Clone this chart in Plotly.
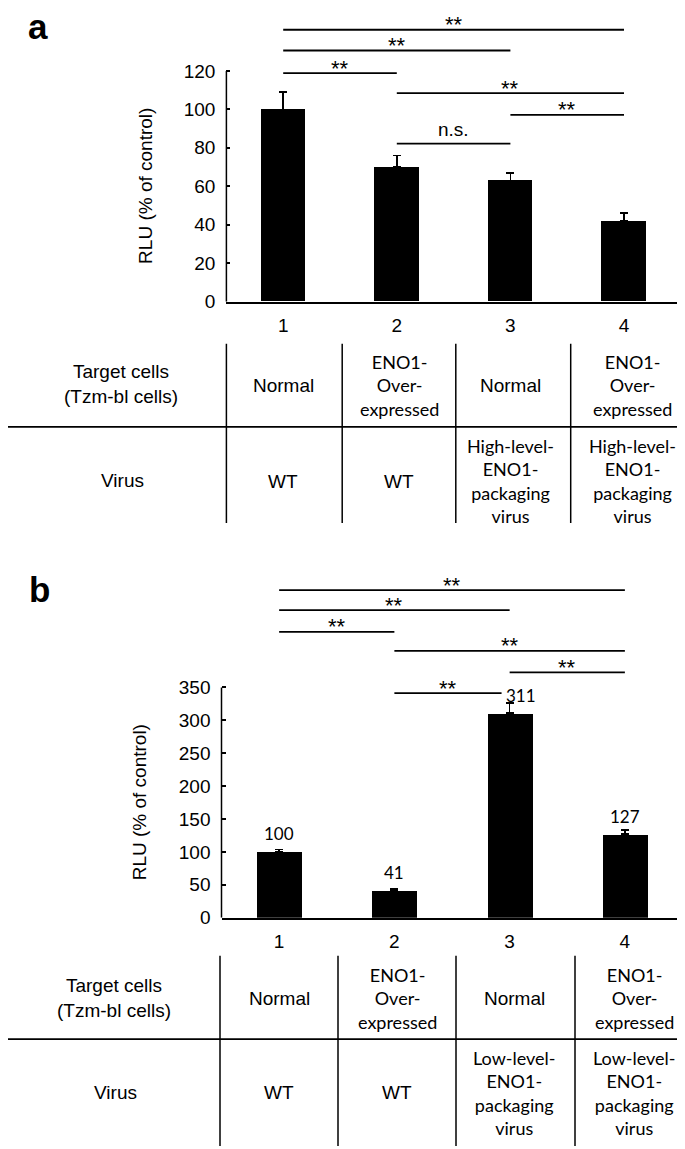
import plotly.graph_objects as go

W, H = 685, 1149

# ---------------- data ----------------
groups = ["1", "2", "3", "4"]
rlu_a = [100, 70, 63, 42]
err_a = [9, 6, 4, 4]
rlu_b = [100, 41, 311, 127]
err_b = [4, 3, 15, 6]
labels_b = ["100", "41", "311", "127"]

# significance comparisons: (from group, to group, label, bracket height in data units)
sig_a = [(0, 3, "**", 141.4), (0, 2, "**", 130.6), (0, 1, "**", 118.8),
         (1, 3, "**", 108.4), (2, 3, "**", 97.1), (1, 2, "n.s.", 82.2)]
sig_b = [(0, 3, "**", 498), (0, 2, "**", 467.5), (0, 1, "**", 434.4),
         (1, 3, "**", 405.6), (2, 3, "**", 373), (1, 1.93, "**", 341.4)]

target_cells = ["Normal", "ENO1-<br>Over-<br>expressed", "Normal", "ENO1-<br>Over-<br>expressed"]
virus_a = ["WT", "WT", "High-level-<br>ENO1-<br>packaging<br>virus", "High-level-<br>ENO1-<br>packaging<br>virus"]
virus_b = ["WT", "WT", "Low-level-<br>ENO1-<br>packaging<br>virus", "Low-level-<br>ENO1-<br>packaging<br>virus"]

ARIAL = "Liberation Sans, Arial, sans-serif"
CALIBRI = "Lato, Carlito, Calibri, sans-serif"


def fx(px):
    return px / W


def fy(py):
    return 1 - py / H


xs = list(range(len(groups)))

fig = go.Figure()
fig.add_trace(go.Bar(x=xs, y=rlu_a, width=0.39, marker=dict(color="black", line_width=0),
                     error_y=dict(type="data", array=err_a, arrayminus=[0] * 4, symmetric=False,
                                  color="black", thickness=1.5, width=4),
                     xaxis="x", yaxis="y", showlegend=False))
fig.add_trace(go.Bar(x=xs, y=rlu_b, width=0.39, marker=dict(color="black", line_width=0),
                     error_y=dict(type="data", array=err_b, arrayminus=[0] * 4, symmetric=False,
                                  color="black", thickness=1.5, width=4),
                     xaxis="x2", yaxis="y2", showlegend=False))

# axis geometry (pixels)
A_X0, A_X1, A_Y0, A_SCALE, A_TOP = 218.4, 672.8, 296.5, 1.9417, 150
B_X0, B_X1, B_Y0, B_SCALE, B_TOP = 213.5, 674.5, 918.5, 0.6643, 520

xcommon = dict(range=[-0.5, 3.5], tickvals=xs, ticktext=groups, showline=True, linecolor="black",
               linewidth=1.5, ticks="", showgrid=False, zeroline=False, ticklabelstandoff=6,
               tickfont=dict(family=ARIAL, size=19, color="black"), fixedrange=True)
ycommon = dict(showline=False, ticks="inside", ticklen=4, tickwidth=1.5, tickcolor="black",
               showgrid=False, zeroline=False, ticklabelstandoff=10,
               tickfont=dict(family=ARIAL, size=19, color="black"), fixedrange=True)

fig.update_layout(
    width=W, height=H, margin=dict(l=0, r=0, t=0, b=0),
    paper_bgcolor="white", plot_bgcolor="white", bargap=0,
    xaxis=dict(domain=[fx(A_X0), fx(A_X1)], anchor="y", **xcommon),
    yaxis=dict(domain=[fy(A_Y0), fy(A_Y0 - A_TOP * A_SCALE)], anchor="x", range=[0, A_TOP],
               tickvals=[0, 20, 40, 60, 80, 100, 120], **ycommon),
    xaxis2=dict(domain=[fx(B_X0), fx(B_X1)], anchor="y2", **xcommon),
    yaxis2=dict(domain=[fy(B_Y0), fy(B_Y0 - B_TOP * B_SCALE)], anchor="x2", range=[0, B_TOP],
                tickvals=[0, 50, 100, 150, 200, 250, 300, 350], **ycommon),
)

shapes = []
annotations = []


def ann(**kw):
    kw.setdefault("showarrow", False)
    kw.setdefault("xanchor", "center")
    kw.setdefault("yanchor", "middle")
    annotations.append(kw)


# y axis lines (only up to the last tick)
shapes.append(dict(type="line", xref="x domain", yref="y", x0=0, x1=0, y0=0, y1=120,
                   line=dict(color="black", width=1.5)))
shapes.append(dict(type="line", xref="x2 domain", yref="y2", x0=0, x1=0, y0=0, y1=350,
                   line=dict(color="black", width=1.5)))

# significance brackets
for sigs, xr, yr in [(sig_a, "x", "y"), (sig_b, "x2", "y2")]:
    for i, j, lab, h in sigs:
        shapes.append(dict(type="line", xref=xr, yref=yr, x0=i, x1=j, y0=h, y1=h,
                           line=dict(color="black", width=1.8)))
        ann(xref=xr, yref=yr, x=(i + j) / 2, y=h, text=lab,
            yshift=14 if lab == "n.s." else 5,
            font=dict(family=ARIAL, size=19 if lab == "n.s." else 22, color="black"))

# value labels panel b
for k, (v, lab) in enumerate(zip(rlu_b, labels_b)):
    ann(xref="x2", yref="y2", x=k, y=v, text=lab, yshift=18, xshift=11 if k == 2 else 0,
        font=dict(family=CALIBRI, size=17, color="black"))

# y-axis titles
for (xp, yp) in [(137.6, 180), (131, 802)]:
    ann(xref="paper", yref="paper", x=fx(xp), y=fy(yp), text="RLU (% of control)", textangle=-90,
        font=dict(family=ARIAL, size=19, color="black"))

# panel letters
for (xp, yp, t) in [(30, 19, "a"), (31, 587, "b")]:
    ann(xref="paper", yref="paper", x=fx(xp), y=fy(yp), text="<b>%s</b>" % t,
        font=dict(family=ARIAL, size=35, color="black"))

# tables
tables = [
    dict(vx=[218.4, 334.2, 447.8, 562.7], vtop=339, vbot=520, hy=423, hx1=681.5,
         head_x=113, head_y=380, virus_x=115, virus_y=477,
         col_x=[275, 391, 502, 624], row1_y=381, row2_y=478, virus=virus_a),
    dict(vx=[212, 330, 448, 567], vtop=957, vbot=1149, hy=1041, hx1=684,
         head_x=106, head_y=1000, virus_x=107, virus_y=1095,
         col_x=[271, 389, 506, 626], row1_y=1000, row2_y=1095, virus=virus_b),
]
for t in tables:
    for vx in t["vx"]:
        shapes.append(dict(type="line", xref="paper", yref="paper", x0=fx(vx), x1=fx(vx),
                           y0=fy(t["vtop"]), y1=fy(t["vbot"]), line=dict(color="black", width=1.5)))
    shapes.append(dict(type="line", xref="paper", yref="paper", x0=0, x1=fx(t["hx1"]),
                       y0=fy(t["hy"]), y1=fy(t["hy"]), line=dict(color="black", width=1.8)))
    ann(xref="paper", yref="paper", x=fx(t["head_x"]), y=fy(t["head_y"]),
        text="Target cells<br>(Tzm-bl cells)", font=dict(family=ARIAL, size=19, color="black"))
    ann(xref="paper", yref="paper", x=fx(t["virus_x"]), y=fy(t["virus_y"]),
        text="Virus", font=dict(family=ARIAL, size=19, color="black"))
    for cx, tc, vv in zip(t["col_x"], target_cells, t["virus"]):
        fam = ARIAL if tc == "Normal" else CALIBRI
        ann(xref="paper", yref="paper", x=fx(cx), y=fy(t["row1_y"]), text=tc,
            font=dict(family=fam, size=19 if fam == ARIAL else 18, color="black"))
        fam2 = ARIAL if vv == "WT" else CALIBRI
        ann(xref="paper", yref="paper", x=fx(cx), y=fy(t["row2_y"]), text=vv,
            font=dict(family=fam2, size=19 if fam2 == ARIAL else 18, color="black"))

fig.update_layout(shapes=shapes, annotations=annotations)
fig.write_html("out.html")
